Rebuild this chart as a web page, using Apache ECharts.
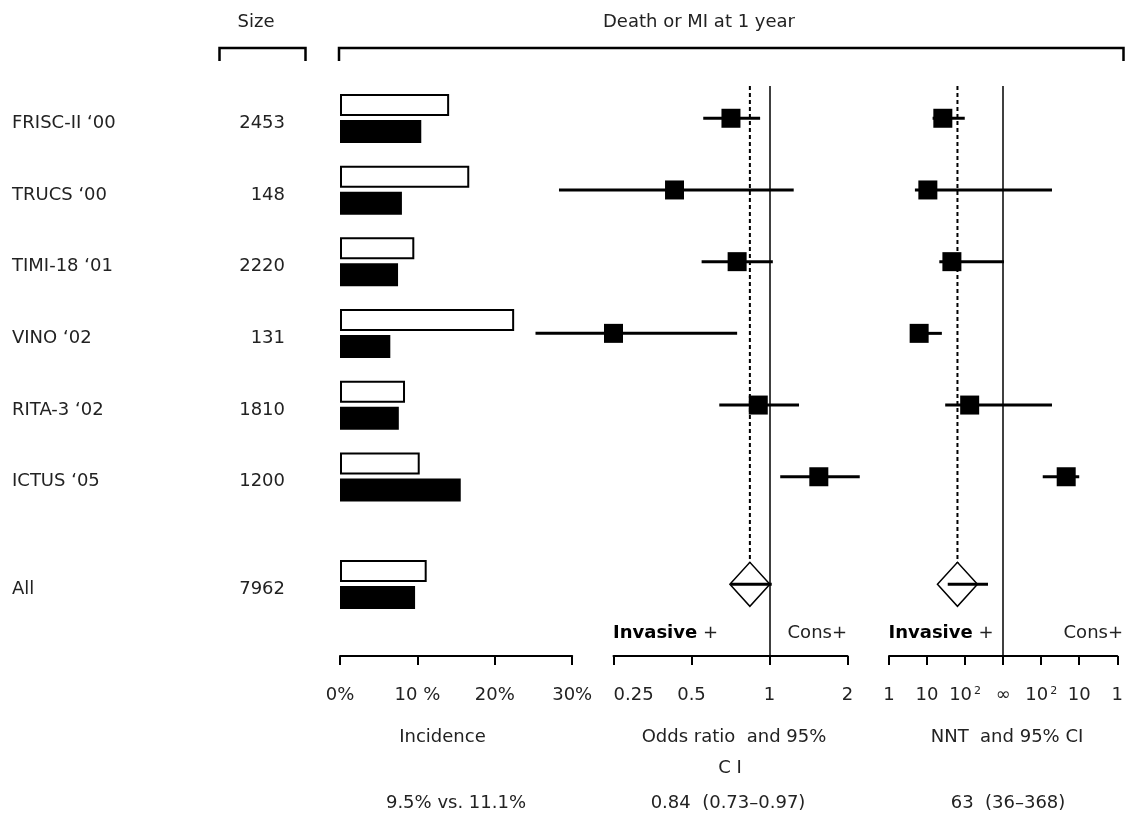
<!DOCTYPE html>
<html><head><meta charset="utf-8">
<script src="https://cdn.jsdelivr.net/npm/echarts@6/dist/echarts.min.js"></script>
<style>html,body{margin:0;padding:0;background:#fff}#c{width:1126px;height:814px}</style>
</head><body><div id="c"></div>
<script>
// ---------------- data ----------------
const trials = ['FRISC-II \u201800', 'TRUCS \u201800', 'TIMI-18 \u201801', 'VINO \u201802', 'RITA-3 \u201802', 'ICTUS \u201805', 'All'];
const rowPos = [0, 1, 2, 3, 4, 5, 6.5];
const sizes = [2453, 148, 2220, 131, 1810, 1200, 7962];
const isSummary = [0, 0, 0, 0, 0, 0, 1];
// incidence of death or MI at 1 year (%)
const incCons = [14.1, 16.7, 9.6, 22.5, 8.4, 10.3, 11.2];   // open bars
const incInv  = [10.5, 8.0, 7.5, 6.5, 7.6, 15.6, 9.7];      // filled bars
// odds ratio and 95% CI
const orEst  = [0.71, 0.43, 0.75, 0.25, 0.905, 1.55, 0.84];
const orLow  = [0.555, 0.154, 0.547, 0.125, 0.64, 1.10, 0.71];
const orHigh = [0.92, 1.24, 1.03, 0.75, 1.30, 2.23, 1.02];
// NNT (positive = number needed to treat, negative = number needed to harm)
const nntEst  = [26, 10.5, 45, 6.2, 132, -22, 63];
const nntLow  = [14, 4.8, 21, 4.2, 30, -91, 35];
const nntHigh = [98, -52, -950, 24.5, -52, -10, 400];
const pooledOR = 0.84;
const pooledNNT = 63;
const incTickLabels = ['0%', '10 %', '20%', '30%'];
const orTicks = [0.25, 0.5, 1, 2];
const nntTickLabels = ['1', '10', '10{s|2}', '\u221e', '10{s|2}', '10', '1'];
const summaryTexts = ['9.5% vs. 11.1%', '0.84  (0.73\u20130.97)', '63  (36\u2013368)'];

// ---------------- helpers ----------------
const FONT = 'DejaVu Sans';
const TXT = '#222';
const Y_MIN = -0.45, Y_MAX = 7.5;
// NNT scale: 1..1000(∞) on log10 for benefit, mirrored for harm
function nntPos(n) { return n > 0 ? Math.log10(n) : 6 - Math.log10(-n); }

const GRID_TOP = 86, GRID_H = 570;
const grids = [
  { left: 340, top: GRID_TOP, width: 232.2, height: GRID_H },
  { left: 613.5, top: GRID_TOP, width: 234, height: GRID_H },
  { left: 889, top: GRID_TOP, width: 234, height: GRID_H }
];
const axisLineStyle = { show: true, onZero: false, lineStyle: { color: '#000', width: 2 } };
const axisTickStyle = { show: true, length: 9, inside: false, lineStyle: { color: '#000', width: 2 } };
const labelBase = { color: TXT, fontFamily: FONT, fontSize: 18, margin: 30 };

const yAxes = [0, 1, 2].map(i => ({ type: 'value', gridIndex: i, inverse: true, min: Y_MIN, max: Y_MAX, show: false }));

const xAxes = [
  { type: 'value', gridIndex: 0, position: 'bottom', min: 0, max: 30, interval: 10, axisLine: axisLineStyle, axisTick: axisTickStyle, splitLine: { show: false },
    axisLabel: Object.assign({}, labelBase, { formatter: v => incTickLabels[Math.round(v / 10)] }) },
  { type: 'log', logBase: 2, gridIndex: 1, position: 'bottom', min: orTicks[0], max: orTicks[orTicks.length - 1], axisLine: axisLineStyle, axisTick: axisTickStyle, splitLine: { show: false },
    axisLabel: Object.assign({}, labelBase, { alignMinLabel: 'left', formatter: v => String(+v.toPrecision(3)) }) },
  { type: 'value', gridIndex: 2, position: 'bottom', min: 0, max: 6, interval: 1, axisLine: axisLineStyle, axisTick: axisTickStyle, splitLine: { show: false },
    axisLabel: Object.assign({}, labelBase, { formatter: v => nntTickLabels[Math.round(v)],
      rich: { s: { fontSize: 11, fontFamily: FONT, color: TXT, verticalAlign: 'top', padding: [0, 0, 8, 2] } } }) }
];

// bars
const barData = rowPos.map((y, i) => [y, incCons[i], incInv[i]]);
function barItem(params, api) {
  const y = api.value(0);
  const p0 = api.coord([0, y]);
  const pc = api.coord([api.value(1), y]);
  const pi = api.coord([api.value(2), y]);
  return { type: 'group', children: [
    { type: 'rect', shape: { x: p0[0] + 1, y: p0[1] - 23.3, width: pc[0] - p0[0] - 2, height: 20 },
      style: { fill: '#fff', stroke: '#000', lineWidth: 2 } },
    { type: 'rect', shape: { x: p0[0], y: p0[1] + 1.7, width: pi[0] - p0[0], height: 23 },
      style: { fill: '#000' } }
  ] };
}
// row labels and sizes
function labelItem(params, api) {
  const y = api.value(0);
  const p = api.coord([0, y]);
  const i = params.dataIndex;
  return { type: 'group', children: [
    { type: 'text', style: { text: trials[i], x: 12, y: p[1] + 5, fill: TXT, font: '18px "' + FONT + '"', align: 'left', verticalAlign: 'middle' } },
    { type: 'text', style: { text: String(sizes[i]), x: 285, y: p[1] + 5, fill: TXT, font: '18px "' + FONT + '"', align: 'right', verticalAlign: 'middle' } }
  ] };
}
// forest marks
function forestItem(params, api) {
  const y = api.value(0), summ = api.value(4);
  const pe = api.coord([api.value(1), y]);
  const pl = api.coord([api.value(2), y]);
  const ph = api.coord([api.value(3), y]);
  const ch = [];
  if (summ) {
    ch.push({ type: 'polygon', shape: { points: [[pe[0] - 20, pe[1]], [pe[0], pe[1] - 22], [pe[0] + 20, pe[1]], [pe[0], pe[1] + 22]] },
      style: { fill: '#fff', stroke: '#000', lineWidth: 1.5 } });
  }
  ch.push({ type: 'line', shape: { x1: pl[0], y1: pl[1], x2: ph[0], y2: ph[1] }, style: { stroke: '#000', lineWidth: 3 } });
  if (!summ) ch.push({ type: 'rect', shape: { x: pe[0] - 9.5, y: pe[1] - 9.5, width: 19, height: 19 }, style: { fill: '#000' } });
  return { type: 'group', children: ch };
}
const orData = rowPos.map((y, i) => [y, orEst[i], orLow[i], orHigh[i], isSummary[i]]);
const nntData = rowPos.map((y, i) => [y, nntPos(nntEst[i]), nntPos(nntLow[i]), nntPos(nntHigh[i]), isSummary[i]]);

const solidLine = { symbol: 'none', silent: true, label: { show: false }, lineStyle: { color: '#000', width: 1.5, type: 'solid' } };
const series = [
  { type: 'custom', xAxisIndex: 0, yAxisIndex: 0, renderItem: barItem, data: barData, z: 3 },
  { type: 'custom', xAxisIndex: 0, yAxisIndex: 0, renderItem: labelItem, data: rowPos.map(y => [y]), z: 3 },
  // dotted pooled lines
  { type: 'line', xAxisIndex: 1, yAxisIndex: 1, data: [[pooledOR, Y_MIN], [pooledOR, rowPos[6]]], symbol: 'none', z: 1,
    lineStyle: { color: '#000', width: 2, type: [4, 3] },
    markLine: Object.assign({ data: [{ xAxis: 1 }] }, solidLine) },
  { type: 'line', xAxisIndex: 2, yAxisIndex: 2, data: [[nntPos(pooledNNT), Y_MIN], [nntPos(pooledNNT), rowPos[6]]], symbol: 'none', z: 1,
    lineStyle: { color: '#000', width: 2, type: [4, 3] },
    markLine: Object.assign({ data: [{ xAxis: 3 }] }, solidLine) },
  { type: 'custom', xAxisIndex: 1, yAxisIndex: 1, renderItem: forestItem, data: orData, z: 4, clip: false },
  { type: 'custom', xAxisIndex: 2, yAxisIndex: 2, renderItem: forestItem, data: nntData, z: 4, clip: false }
];

function txt(text, x, y, align, extra) {
  return { type: 'text', z: 10, style: Object.assign({ text, x, y, fill: TXT, font: '18px "' + FONT + '"',
    align: align || 'center', verticalAlign: 'middle' }, extra || {}) };
}
const richB = { b: { fontWeight: 'bold', fontFamily: FONT, fontSize: 18, fill: '#000' } };
const graphic = [
  txt('Size', 256, 22.5),
  txt('Death or MI at 1 year', 699, 22.5),
  { type: 'polyline', shape: { points: [[219.5, 61], [219.5, 48], [305.5, 48], [305.5, 61]] }, style: { stroke: '#000', lineWidth: 2.5, fill: null } },
  { type: 'polyline', shape: { points: [[339, 61], [339, 48], [1123.5, 48], [1123.5, 61]] }, style: { stroke: '#000', lineWidth: 2.5, fill: null } },
  txt('{b|Invasive} +', 613, 633, 'left', { rich: richB }),
  txt('Cons+', 847, 633, 'right'),
  txt('{b|Invasive} +', 888.5, 633, 'left', { rich: richB }),
  txt('Cons+', 1123, 633, 'right'),
  txt('Incidence', 442.5, 737),
  txt('Odds ratio  and 95%', 734, 737),
  txt('C I', 730, 768),
  txt('NNT  and 95% CI', 1007, 737),
  txt(summaryTexts[0], 456, 803),
  txt(summaryTexts[1], 728, 803),
  txt(summaryTexts[2], 1008, 803)
];

const chart = echarts.init(document.getElementById('c'), null, { renderer: 'canvas' });
chart.setOption({
  animation: false,
  backgroundColor: '#fff',
  textStyle: { fontFamily: FONT },
  grid: grids,
  xAxis: xAxes,
  yAxis: yAxes,
  series: series,
  graphic: graphic
});
</script>
</body></html>
